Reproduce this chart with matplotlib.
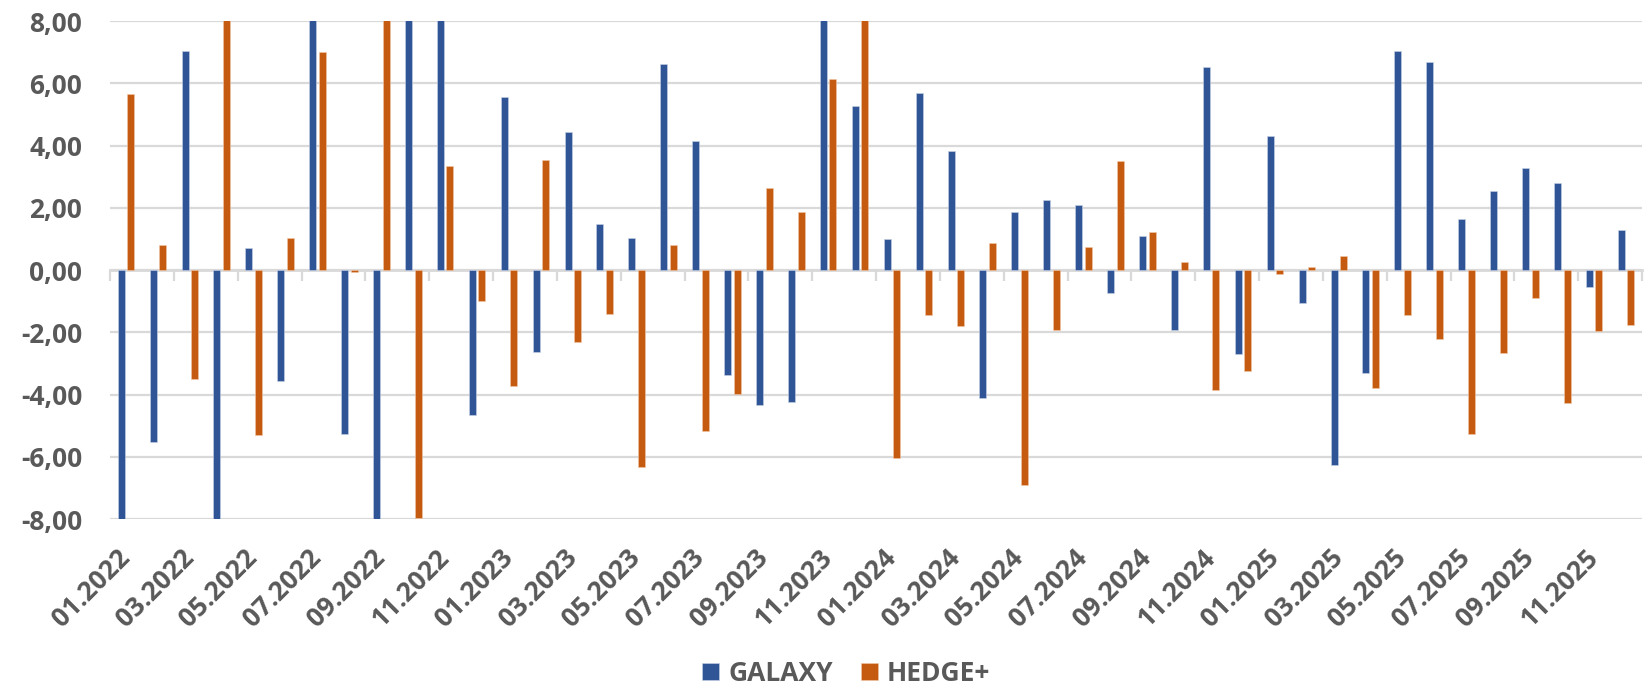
import matplotlib
matplotlib.use("Agg")
import matplotlib.pyplot as plt
import matplotlib.transforms as mtransforms
import numpy as np

# monthly returns, 01.2022 .. 12.2025 (values beyond +/-8 are clipped in the chart)
months = [f"{m:02d}.{y}" for y in (2022, 2023, 2024, 2025) for m in range(1, 13)]

galaxy = [-9.3, -5.53, 7.03, -8.8, 0.70, -3.57, 8.6, -5.28, -10.2, 8.9, 8.4, -4.65,
          5.56, -2.64, 4.42, 1.47, 1.02, 6.63, 4.15, -3.37, -4.33, -4.24, 8.7, 5.28,
          0.99, 5.70, 3.83, -4.12, 1.86, 2.24, 2.10, -0.75, 1.09, -1.94, 6.52, -2.69,
          4.30, -1.05, -6.26, -3.31, 7.03, 6.67, 1.63, 2.55, 3.29, 2.81, -0.56, 1.27]

hedge = [5.66, 0.81, -3.49, 9.1, -5.31, 1.04, 7.02, -0.05, 9.5, -7.96, 3.34, -1.00,
         -3.71, 3.52, -2.32, -1.40, -6.32, 0.81, -5.18, -3.97, 2.65, 1.88, 6.13, 9.0,
         -6.03, -1.45, -1.80, 0.88, -6.92, -1.94, 0.74, 3.49, 1.21, 0.27, -3.86, -3.23,
         -0.14, 0.09, 0.46, -3.78, -1.43, -2.23, -5.28, -2.67, -0.90, -4.27, -1.95, -1.76]

BLUE = "#2F5597"
ORANGE = "#C55A11"
GRID = "#D9D9D9"
TEXT = "#595959"

plt.rcParams['font.family'] = ['Open Sans', 'DejaVu Sans']

fig = plt.figure(figsize=(16.45, 6.87), dpi=100)
ax = fig.add_axes([0.0669, 0.2445, 0.9313, 0.7249])

x = np.arange(len(months))
w = 0.22
off = 0.15
ax.bar(x - off, galaxy, w, color=BLUE, edgecolor="#c9d3e8", linewidth=0.4, label="GALAXY", zorder=2)
ax.bar(x + off, hedge, w, color=ORANGE, edgecolor="#f2c8a8", linewidth=0.4, label="HEDGE+", zorder=2)

ax.set_ylim(-8, 8)
ax.set_xlim(-0.5, len(months) - 0.5)
ax.set_yticks(np.arange(-8, 9, 2))
ax.set_yticklabels([f"{v:.2f}".replace(".", ",") for v in np.arange(-8, 9, 2)])
ax.yaxis.grid(True, color=GRID, linewidth=1.6)
ax.set_axisbelow(True)
for s in ax.spines.values():
    s.set_visible(False)

ax.set_xticks(x[::2])
ax.set_xticklabels(months[::2], rotation=45, ha="right", va="baseline", rotation_mode="anchor")
ax.tick_params(axis="both", length=0, labelsize=19, labelcolor=TEXT)
ax.tick_params(axis="y", pad=20)
ax.tick_params(axis="x", pad=28.5)
shift = mtransforms.ScaledTranslation(5 / 100, 0, fig.dpi_scale_trans)
for lbl in ax.get_xticklabels():
    lbl.set_transform(lbl.get_transform() + shift)
for lbl in ax.get_xticklabels() + ax.get_yticklabels():
    lbl.set_fontweight("bold")

# category axis line with tick marks at zero
sec = ax.secondary_xaxis(0.5)
sec.set_alignment("bottom")
sec.set_xticks(np.arange(-0.5, len(months), 2))
sec.set_xticklabels([])
sec.tick_params(axis="x", length=8, width=1.6, color=GRID, direction="out")
sec.spines["bottom"].set_color(GRID)
sec.spines["bottom"].set_linewidth(2)

fig.legend(loc="center", bbox_to_anchor=(0.5143, 0.02), ncol=2, frameon=False,
           borderpad=0.2, prop={"size": 19, "weight": "bold"}, labelcolor=TEXT,
           handlelength=0.64, handleheight=0.64, handletextpad=0.34, columnspacing=1.06)

fig.savefig("out.png", dpi=100)
